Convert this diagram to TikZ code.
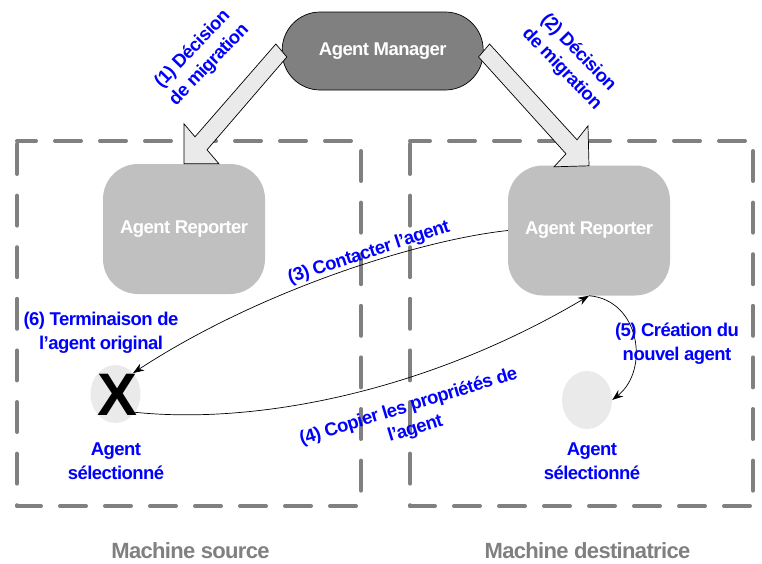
\documentclass[tikz,border=0pt]{standalone}
\usepackage{fontspec}
\setmainfont{Liberation Sans}[LetterSpace=-3]
\newfontfamily\xfont{Liberation Sans}
\usetikzlibrary{arrows.meta,calc,shapes.geometric}
\definecolor{bluetxt}{RGB}{0,0,255}
\definecolor{mgrgray}{RGB}{128,128,128}
\definecolor{repgray}{RGB}{192,192,192}
\definecolor{selgray}{RGB}{234,234,234}
\tikzset{
  basetxt/.style={font=\bfseries\fontsize{18.5}{24}\selectfont,inner sep=0pt,align=center},
  bluelabel/.style={basetxt,text=bluetxt},
  slantlabel/.style={bluelabel,font=\bfseries\fontsize{18.5}{23}\selectfont},
  graylabel/.style={basetxt,font=\bfseries\fontsize{22}{24}\selectfont,text=mgrgray},
  hside/.style={draw=mgrgray,line width=4pt,line cap=round,dash pattern=on 26pt off 19pt},
  vside/.style={draw=mgrgray,line width=4pt,line cap=round,dash pattern=on 30pt off 21.6pt},
  manager/.style={basetxt,text=white,draw=black,line width=0.7pt,fill=mgrgray,rounded corners=38pt,minimum width=201pt,minimum height=78pt},
  reporter/.style={basetxt,text=white,fill=repgray,rounded corners=35pt,minimum width=162pt,minimum height=130pt},
  selagent/.style={ellipse,fill=selgray,minimum width=50pt,minimum height=58pt,inner sep=0pt},
  flow/.style={draw=black,line width=0.7pt,-{Stealth[length=11pt,width=8pt]}},
  blockarr/.style={draw=black,line width=0.7pt,fill=selgray,line join=miter}
}
\begin{document}
\begin{tikzpicture}[x=1pt,y=-1pt]
\useasboundingbox (0,0) rectangle (762,563);
% left machine
\draw[hside,dash phase=7pt] (17,141) -- (361,141);
\draw[vside,dash phase=41.6pt] (361,141) -- (361,506);
\draw[hside,dash phase=2pt] (17,506) -- (361,506);
\draw[vside] (17,144) -- (17,506);
% right machine
\draw[hside,dash phase=6pt] (410,141) -- (753,141);
\draw[vside,dash phase=41.6pt] (753,141) -- (753,506);
\draw[hside,dash phase=1pt] (410,506) -- (753,506);
\draw[vside] (410,144) -- (410,506);
\node[manager] (mgr) at (382.7,51) {\raisebox{-1.5pt}{Agent Manager}};
\node[reporter] (rep1) at (184,229) {Agent Reporter};
\node[reporter] (rep2) at (589,230.5) {Agent Reporter};
\node[selagent] (sel1) at (115.5,394) {};
\node[selagent] (sel2) at (587,400) {};
\node[font=\xfont\bfseries\fontsize{60}{60}\selectfont,inner sep=0pt] (x1) at (118,395) {X};
\draw[blockarr] ($(mgr.west)+(-6,-7)$) -- ($(rep1.north)+(11,-27)$) -- ($(rep1.north)+(0,-40)$) -- (rep1.north)
  -- ($(rep1.north)+(35,0)$) -- ($(rep1.north)+(23,-14)$) -- ($(mgr.west)+(5,6)$) -- cycle;
\draw[blockarr] ($(mgr.east)+(6,-7)$) -- ($(rep2.north)+(-12,-25.5)$) -- ($(rep2.north)+(-1,-39.5)$) -- ($(rep2.north)+(0,0.5)$)
  -- ($(rep2.north)+(-35,1.5)$) -- ($(rep2.north)+(-23,-11.5)$) -- ($(mgr.east)+(-5,6)$) -- cycle;
\draw[flow] (rep2.west) .. controls (420,240) and (260,290) .. (sel1.50);
\draw[flow] (sel1.-43) .. controls (260,425) and (430,390) .. (rep2.south);
\draw[flow] (rep2.south) .. controls (640,300) and (650,370) .. (sel2.east);
\node[slantlabel,rotate=46] (l1) at (201,57) {(1) Décision\\de migration};
\node[slantlabel,rotate=-46] (l2) at (570,61) {(2) Décision\\de migration};
\node[bluelabel,rotate=18] (l3) at (369,253) {(3) Contacter l’agent};
\node[slantlabel,rotate=17] (l4) at (412,418) {(4) Copier les propriétés de\\l’agent};
\node[bluelabel] (l5) at (677,344) {(5) Création du\\nouvel agent};
\node[bluelabel] (l6) at (101,332.5) {(6) Terminaison de\\l’agent original};
\node[bluelabel] (t1) at (116,461) {Agent\\sélectionné};
\node[bluelabel] (t2) at (592,461.5) {Agent\\sélectionné};
\node[graylabel] (m1) at (190.5,551) {Machine source};
\node[graylabel] (m2) at (587.5,551) {Machine destinatrice};
\end{tikzpicture}
\end{document}
